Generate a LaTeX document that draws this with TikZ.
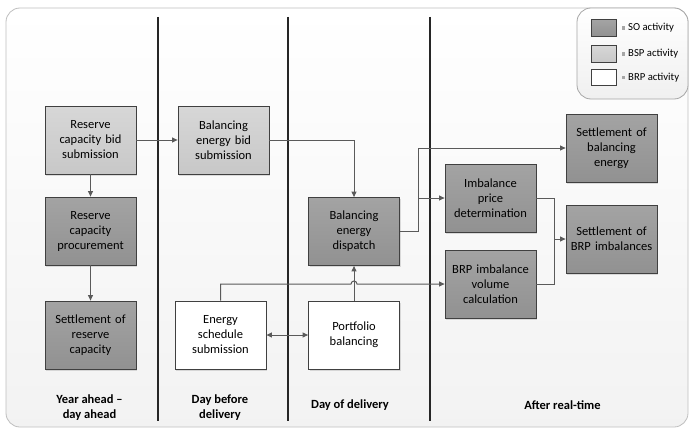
\documentclass[tikz,border=0pt]{standalone}
\usepackage{fontspec}
\setmainfont{Carlito}
\usetikzlibrary{arrows.meta,shadows,calc}

\definecolor{socol}{HTML}{999999}
\definecolor{bspcol}{HTML}{D0D0D0}
\definecolor{brpcol}{HTML}{FFFFFF}
\definecolor{boxline}{HTML}{404040}
\definecolor{linkcol}{HTML}{5A5A5A}
\definecolor{panelline}{HTML}{BFBFBF}

\tikzset{
  activity/.style={draw=boxline, line width=0.8pt, minimum width=91pt, minimum height=68pt,
    inner sep=1pt, align=center, text width=89pt,
    font=\fontsize{12.5}{15}\selectfont,
    drop shadow={shadow xshift=1.2pt, shadow yshift=-1.5pt, opacity=0.25}},
  so/.style={activity, top color=socol!90!white, bottom color=socol!95!black},
  bsp/.style={activity, top color=bspcol!85!white, bottom color=bspcol!96!black},
  brp/.style={activity, fill=brpcol},
  link/.style={draw=linkcol, line width=1pt},
  arr/.style={link, -{Triangle[length=5.5pt,width=5pt]}},
  dblarr/.style={link, {Triangle[length=5.5pt,width=5pt]}-{Triangle[length=5.5pt,width=5pt]}},
  divider/.style={draw=black!85, line width=1.2pt},
  period/.style={font=\bfseries\fontsize{12.5}{15}\selectfont, align=center},
  legendbox/.style={draw=boxline, line width=0.7pt, minimum width=25pt, minimum height=16.5pt, inner sep=0pt},
  legendtext/.style={font=\fontsize{10.7}{12}\selectfont, anchor=west, inner sep=0pt},
  bullet/.style={fill=black!35, draw=none, minimum size=3.5pt, inner sep=0pt}
}

\begin{document}
\begin{tikzpicture}[x=1pt,y=-1pt]
\useasboundingbox (0,0) rectangle (690,428);

% panel background
\shade[top color=white, bottom color=black!5, draw=panelline, line width=0.8pt, rounded corners=14pt]
  (6,8) rectangle (688,427);

% time period dividers
\draw[divider] (158,17) -- (158,421);
\draw[divider] (288,17) -- (288,421);
\draw[divider] (430,17) -- (430,421);

% legend
\shade[top color=white, bottom color=black!6, draw=black!35, line width=0.8pt, rounded corners=14pt]
  (577,8) rectangle (688,99);
\node[legendbox, top color=socol!90!white, bottom color=socol!95!black] (lso) at (603.5,28) {};
\node[legendbox, top color=bspcol!85!white, bottom color=bspcol!96!black] (lbsp) at (603.5,54) {};
\node[legendbox, fill=white] (lbrp) at (603.5,77.5) {};
\node[bullet] (bso) at (623.5,28) {};
\node[bullet] (bbsp) at (623.5,54) {};
\node[bullet] (bbrp) at (623.5,77.5) {};
\node[legendtext] (tso) at (628,28) {SO activity};
\node[legendtext] (tbsp) at (628,54) {BSP activity};
\node[legendtext] (tbrp) at (628,77.5) {BRP activity};

% activities
\node[bsp] (rcbs) at (90.5,140) {Reserve\\capacity bid\\submission};
\node[so]  (rcp)  at (90.5,231) {Reserve\\capacity\\procurement};
\node[so]  (src)  at (90.5,335) {Settlement of\\reserve\\capacity};
\node[bsp] (bebs) at (223.5,140) {Balancing\\energy bid\\submission};
\node[brp] (ess)  at (220.5,335) {Energy\\schedule\\submission};
\node[so]  (bed)  at (354,231.5) {Balancing\\energy\\dispatch};
\node[brp] (pb)   at (354,335) {Portfolio\\balancing};
\node[so]  (ipd)  at (490.5,198) {Imbalance\\price\\determination};
\node[so]  (bvc)  at (490.5,284) {BRP imbalance\\volume\\calculation};
\node[so]  (sbe)  at (611.5,148) {Settlement of\\balancing\\energy};
\node[so]  (sbrp) at (611.5,239) {Settlement of\\BRP imbalances};

% connectors
\draw[arr] (rcbs) -- (bebs);
\draw[arr] (rcbs) -- (rcp);
\draw[arr] (rcp) -- (src);
\draw[arr] (bebs.east) -| (bed.north);
\draw[arr] (pb) -- (bed);
\draw[dblarr] (ess) -- (pb);

\coordinate (split) at (418,231.5);
\draw[link] (bed.east) -- (split);
\draw[arr] (split) |- (sbe.west);
\draw[arr] (split |- ipd.west) -- (ipd.west);

\coordinate (merge) at (554,239);
\draw[link] (ipd.east) -| (merge);
\draw[link] (bvc.east) -| (merge);
\draw[arr] (merge) -- (sbrp.west);

% schedule line hopping over the portfolio link
\draw[arr] (ess.north) -- (ess.north |- bvc.west)
  -- ($(pb.north |- bvc.west)+(-3,0)$) arc[start angle=180, end angle=0, radius=3pt]
  -- (bvc.west);

% time periods
\node[period] (p1) at (89.5,407.5) {Year ahead --\\day ahead};
\node[period] (p2) at (220,407.5) {Day before\\delivery};
\node[period] (p3) at (350,405) {Day of delivery};
\node[period] (p4) at (562.5,405) {After real-time};
\end{tikzpicture}
\end{document}
